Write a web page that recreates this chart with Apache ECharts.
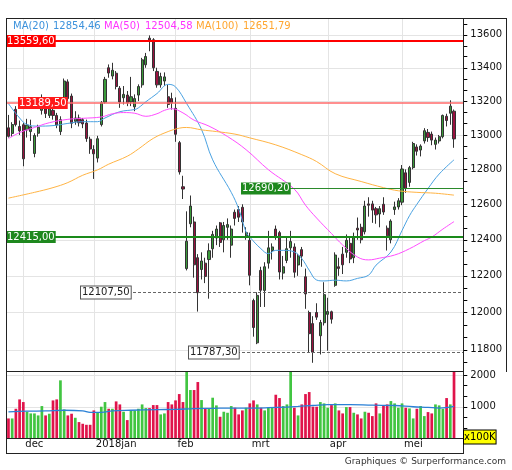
<!DOCTYPE html>
<html><head><meta charset="utf-8">
<script src="https://cdn.jsdelivr.net/npm/echarts@6/dist/echarts.min.js"></script>
<style>html,body{margin:0;padding:0;background:#fff}#c{width:512px;height:470px}</style>
</head><body><div id="c"></div>
<script>
// ---- DATA ----
const opens  = [13042,13009,13151,13050,13060,13030,13020,12892,13010,13145,13155,13115,13145,13115,13020,13206,13315,13230,13080,13100,13090,13070,12975,12915,12865,13061,13194,13400,13350,13367,13277,13220,13236,13195,13166,13236,13297,13418,13580,13570,13378,13297,13320,13226,13215,13157,12955,12700,12240,12490,12500,12300,12235,12270,12290,12350,12410,12495,12400,12470,12370,12555,12570,12583,12420,12397,12065,11837,12230,12120,12270,12340,12460,12440,12215,12285,12355,12360,12260,12345,12195,12000,11940,12000,11875,11945,11990,12004,12148,12250,12320,12330,12380,12300,12465,12470,12445,12602,12602,12575,12545,12600,12465,12400,12570,12585,12612,12780,12725,12810,12930,12912,12965,13015,13005,12945,12965,12990,13110,13128,13140];
const highs  = [13118,13075,13170,13085,13070,13095,13090,13010,13060,13240,13175,13185,13160,13130,13110,13335,13330,13245,13140,13120,13100,13090,12990,12940,12995,13200,13345,13420,13430,13380,13290,13290,13260,13345,13240,13300,13460,13490,13597,13580,13400,13370,13372,13297,13250,13222,12965,12763,12560,12650,12530,12320,12330,12300,12380,12450,12480,12500,12500,12520,12480,12570,12590,12600,12470,12440,12075,12110,12250,12275,12450,12380,12480,12450,12310,12420,12450,12380,12320,12360,12240,12010,11980,12050,11960,12165,12080,12010,12330,12300,12360,12430,12410,12440,12525,12490,12620,12640,12620,12585,12590,12640,12480,12515,12615,12635,12825,12800,12820,12960,12945,12945,13040,13035,13020,12985,13000,13120,13125,13205,13150];
const lows   = [12985,12990,13050,13000,12818,12985,12965,12870,12990,13120,13100,13100,13090,13040,13000,13190,13200,13040,13060,13050,13040,12960,12890,12745,12840,13050,13185,13340,13330,13270,13160,13180,13170,13170,13140,13200,13280,13400,13500,13380,13280,13280,13290,13160,13150,12960,12770,12630,12230,12470,12190,12005,12180,12160,12075,12300,12370,12360,12330,12400,12300,12480,12500,12440,12400,12148,11870,11830,12030,12030,12240,12290,12400,12180,12180,12270,12300,12190,12200,12250,12020,11785,11731,11960,11775,11930,11795,11940,12140,12200,12210,12300,12270,12270,12400,12380,12430,12530,12495,12490,12470,12540,12340,12380,12540,12570,12595,12665,12700,12800,12880,12875,12950,12960,12940,12915,12950,12980,13050,13060,12925];
const closes = [12992,13061,13061,13024,12861,13058,13048,12997,13045,13160,13126,13155,13115,13058,13090,13320,13215,13069,13100,13072,13065,12979,12918,12890,12978,13190,13330,13368,13385,13287,13195,13240,13190,13226,13215,13287,13448,13468,13559.6,13400,13297,13347,13345,13180,13189.5,13004,12785,12687,12392,12590,12261,12107.5,12282,12197,12339,12430,12460,12385,12480,12485,12460,12520,12527,12500,12440,12203,11919,12093,12121,12250,12355,12360,12418,12221,12250,12350,12390,12220,12310,12309,12101,11886,11787.3,11975,11946,12097,12005,11964,12315,12241,12261,12397,12293,12415,12455,12400,12590,12595,12567,12540,12575,12556,12422,12505,12585,12620,12802,12690.2,12810,12950,12905,12935,13025,12985,12970,12970,12990,13115,13085,13170,12977];
const volumes = [632,632,937,1232,1148,843,790,790,727,1022,727,780,1200,1232,1832,916,727,780,653,517,464,432,432,885,811,1001,1148,937,937,1169,1074,843,580,885,885,937,1074,958,958,1053,1053,759,790,1148,1074,1200,1400,1148,2100,1527,1527,1779,1211,937,937,1285,1043,685,843,811,1022,969,759,885,969,1106,1200,1074,969,885,969,969,1379,1274,1022,1074,2100,969,727,1074,1400,1463,1001,1001,1148,1106,969,1053,1106,885,790,990,990,811,759,632,843,811,706,1106,790,1043,1074,1179,1106,969,1106,969,948,632,937,1022,706,832,790,1074,1043,937,1274,1074,2100];

const ma20Idx = [0,3,5,8,12,16,20,24,26,30,34,35,37,40,43,45,48,52,55,60,62,64,65,68,70,72,74,77,79,81,83,85,88,91,94,97,99,103,106,108,110,113,116,120];
const ma20Val = [13185,13100,13061,13052,13055,13068,13078,13078,13100,13137,13150,13160,13196,13245,13300,13285,13185,13032,12855,12668,12574,12443,12415,12350,12323,12341,12341,12332,12295,12231,12177,12172,12176,12172,12186,12204,12259,12332,12452,12535,12600,12690,12773,12855];
const ma50Idx = [0,3,7,11,16,20,25,28,31,34,37,40,42,44,47,50,54,59,64,70,77,80,83,87,90,94,97,100,104,108,112,114,117,120];
const ma50Val = [12979,13014,13044,13072,13092,13098,13106,13125,13132,13128,13110,13125,13145,13155,13130,13087,13052,12991,12914,12798,12686,12595,12522,12435,12371,12304,12288,12298,12315,12350,12395,12415,12460,12502];
const ma100Idx = [0,7,12,16,20,24,27,32,35,39,43,46,48,52,56,61,65,72,79,83,88,95,101,105,110,115,120];
const ma100Val = [12635,12668,12695,12724,12766,12797,12830,12876,12918,12980,13020,13040,13044,13030,13020,13005,12983,12942,12885,12845,12775,12730,12695,12677,12668,12663,12652];
const volMaIdx = [0,5,10,15,20,22,25,28,33,40,45,50,55,60,65,70,75,78,82,86,92,98,104,109,113,116,120];
const volMaVal = [840,860,870,890,870,820,820,870,890,910,920,940,950,960,960,970,990,1010,1040,1070,1070,1050,1040,1000,980,960,1010];

const monthStarts = [4,23,45,65,86,106];
const monthNames  = ['dec','2018jan','feb','mrt','apr','mei'];
const priceTicks  = [11800,12000,12200,12400,12600,12800,13000,13200,13400,13600];
const volTicks    = [1000,2000];
const levels      = [13559.6,13189.5,12690.2,12415.0,12107.5,11787.3];
const legendNames = ['MA(20)','MA(50)','MA(100)'];
const legendValues= [12854.46,12504.58,12651.79];

// ---- layout / style ----
const FONT = 'DejaVu Sans';
const N_CAT = 123, priceMin = 11685, priceMax = 13704, volMax = 2095;
const L = Math.log;
const fmt = v => v.toFixed(2).replace('.', ',');
const cats = Array.from({length: N_CAT}, (_, i) => String(i));
const minorPrice = []; for (let k = -1; k <= 28; k++) minorPrice.push(11800 + k * 200 / 3);
const minorVol = []; for (let k = 1; k <= 6; k++) minorVol.push(k * 1000 / 3);
const UP = '#3a9a3a', DN = '#9a1240', UPV = '#41c541', DNV = '#e0144b';
const isMonth = i => monthStarts.indexOf(Number(i)) >= 0;

const candleData = opens.map((o, i) => [L(o), L(closes[i]), L(lows[i]), L(highs[i])]);
const pair = (idx, vals, f) => idx.map((x, k) => [x, f ? f(vals[k]) : vals[k]]);
const volData = volumes.map((v, i) => ({value: v, itemStyle: {color: closes[i] >= opens[i] ? UPV : DNV}}));

const splitX = {show: true, interval: (i) => isMonth(i), alignWithLabel: true, lineStyle: {color: '#e4e4e4', width: 1}};
const lbl = {fontFamily: FONT, fontSize: 10, color: '#111'};

const option = {
  animation: false,
  backgroundColor: '#fff',
  textStyle: {fontFamily: FONT},
  grid: [
    {left: 6.6, right: 48.7, top: 18, height: 353.5, containLabel: false, outerBoundsMode: 'none'},
    {left: 6.6, right: 48.7, top: 372, height: 66.5, containLabel: false, outerBoundsMode: 'none'}
  ],
  xAxis: [
    {type: 'category', gridIndex: 0, data: cats, boundaryGap: true, axisLine: {show: false}, axisTick: {show: false}, axisLabel: {show: false}, splitLine: splitX},
    {type: 'category', gridIndex: 1, data: cats, boundaryGap: true, axisLine: {show: false}, axisTick: {show: false},
     axisLabel: Object.assign({show: true, interval: (i) => isMonth(i), formatter: (v) => monthNames[monthStarts.indexOf(Number(v))] || '', align: 'left', margin: 1, padding: [0, 0, 0, 2]}, lbl),
     splitLine: splitX}
  ],
  yAxis: [
    {type: 'value', gridIndex: 0, position: 'right', min: L(priceMin), max: L(priceMax),
     axisLine: {show: false}, axisTick: {show: true, length: 4, customValues: minorPrice.map(L), lineStyle: {color: '#000'}},
     axisLabel: Object.assign({customValues: priceTicks.map(L), formatter: v => String(Math.round(Math.exp(v))), margin: 7}, lbl),
     splitLine: {show: false}},
    {type: 'value', gridIndex: 0, position: 'left', min: L(priceMin), max: L(priceMax),
     axisLine: {show: false}, axisTick: {show: false, customValues: priceTicks.map(L)}, axisLabel: {show: false},
     splitLine: {show: true, lineStyle: {color: '#e4e4e4'}}},
    {type: 'value', gridIndex: 1, position: 'right', min: 0, max: volMax,
     axisLine: {show: false}, axisTick: {show: true, length: 4, customValues: minorVol, lineStyle: {color: '#000'}},
     axisLabel: Object.assign({customValues: volTicks, formatter: v => String(Math.round(v)), margin: 7}, lbl), splitLine: {show: false}},
    {type: 'value', gridIndex: 1, position: 'left', min: 0, max: volMax,
     axisLine: {show: false}, axisTick: {show: false, customValues: volTicks}, axisLabel: {show: false},
     splitLine: {show: true, lineStyle: {color: '#e4e4e4'}}}
  ],
  series: [
    {type: 'candlestick', xAxisIndex: 0, yAxisIndex: 0, data: candleData, barWidth: 2.6,
     itemStyle: {color: UP, color0: DN, borderColor: '#333', borderColor0: '#333', borderWidth: 1}},
    {type: 'line', xAxisIndex: 0, yAxisIndex: 0, data: pair(ma20Idx, ma20Val, L), smooth: 0.4, symbol: 'none', lineStyle: {color: '#4aa2e2', width: 1}},
    {type: 'line', xAxisIndex: 0, yAxisIndex: 0, data: pair(ma50Idx, ma50Val, L), smooth: 0.4, symbol: 'none', lineStyle: {color: '#ff4dff', width: 1}},
    {type: 'line', xAxisIndex: 0, yAxisIndex: 0, data: pair(ma100Idx, ma100Val, L), smooth: 0.4, symbol: 'none', lineStyle: {color: '#ffb444', width: 1}},
    {type: 'bar', xAxisIndex: 1, yAxisIndex: 2, data: volData, barWidth: 2.7},
    {type: 'line', xAxisIndex: 1, yAxisIndex: 2, data: pair(volMaIdx, volMaVal), smooth: 0.4, symbol: 'none', lineStyle: {color: '#2a80d6', width: 1.3}, z: 5}
  ]
};

const chart = echarts.init(document.getElementById('c'), null, {renderer: 'canvas'});
chart.setOption(option);

// ---- overlays: reference levels, legend, frame ----
const yPix = v => chart.convertToPixel({yAxisIndex: 0}, L(v));
const levelStyle = [
  {x0: 6, lx: 6,   color: '#ff0000', w: 2,   dash: null,  bg: '#ff0000', fg: '#fff', bd: null},
  {x0: 6, lx: 18,  color: '#ff6a6a', w: 1.5, dash: null,  bg: '#ff1a1a', fg: '#fff', bd: null},
  {x0: 287, lx: 241, color: '#2b8a2b', w: 1, dash: null,  bg: '#1e881e', fg: '#fff', bd: null},
  {x0: 6, lx: 6,   color: '#1a8a1a', w: 2,   dash: null,  bg: '#1e881e', fg: '#fff', bd: null},
  {x0: 128, lx: 81,  color: '#666', w: 1,   dash: [3, 2], bg: '#fff', fg: '#222', bd: '#555'},
  {x0: 237, lx: 189, color: '#666', w: 1,   dash: [3, 2], bg: '#fff', fg: '#222', bd: '#555'}
];
const gr = [];
levels.forEach((v, k) => {
  const s = levelStyle[k];
  let y = yPix(v);
  y = s.w % 2 === 1 ? Math.round(y - 0.5) + 0.5 : Math.round(y);
  gr.push({type: 'line', z: 10, shape: {x1: s.x0, y1: y, x2: 463, y2: y}, style: {stroke: s.color, lineWidth: s.w, lineDash: s.dash}});
  gr.push({type: 'text', z: 11, x: s.lx, y: y, style: {text: fmt(v), font: '10px "DejaVu Sans"', fill: s.fg, backgroundColor: s.bg,
    borderColor: s.bd, borderWidth: s.bd ? 1 : 0, padding: [1, 1, 1, 1], verticalAlign: 'middle', align: 'left'}});
});
const legColors = ['#3d92dc', '#ff33ff', '#ffa630'];
const legNameX = [13, 104, 196], legValX = [53, 145, 243];
legendNames.forEach((n, k) => {
  gr.push({type: 'text', z: 12, x: legNameX[k], y: 26, style: {text: n, font: '10px "DejaVu Sans"', fill: legColors[k], verticalAlign: 'middle'}});
  gr.push({type: 'text', z: 12, x: legValX[k], y: 26, style: {text: fmt(legendValues[k]), font: '10px "DejaVu Sans"', fill: legColors[k], verticalAlign: 'middle'}});
});
const frame = [[6, 18.5, 506, 18.5], [6.5, 18, 6.5, 454], [463.5, 18, 463.5, 454], [506.5, 18, 506.5, 372],
  [6, 371.5, 464, 371.5], [6, 438.5, 464, 438.5], [6, 453.5, 464, 453.5]];
frame.forEach(f => gr.push({type: 'line', z: 20, shape: {x1: f[0], y1: f[1], x2: f[2], y2: f[3]}, style: {stroke: '#222', lineWidth: 1}}));
gr.push({type: 'text', z: 20, x: 464, y: 437, style: {text: 'x100K', font: '10px "DejaVu Sans"', fill: '#000', backgroundColor: '#ffff00',
  borderColor: '#000', borderWidth: 1, padding: [2, 0, 1, 0], verticalAlign: 'middle', align: 'left'}});
gr.push({type: 'text', z: 20, x: 506, y: 462, style: {text: 'Graphiques © Surperformance.com', font: '9px "DejaVu Sans"', fill: '#333', verticalAlign: 'middle', align: 'right'}});
chart.setOption({graphic: gr});
</script></body></html>
